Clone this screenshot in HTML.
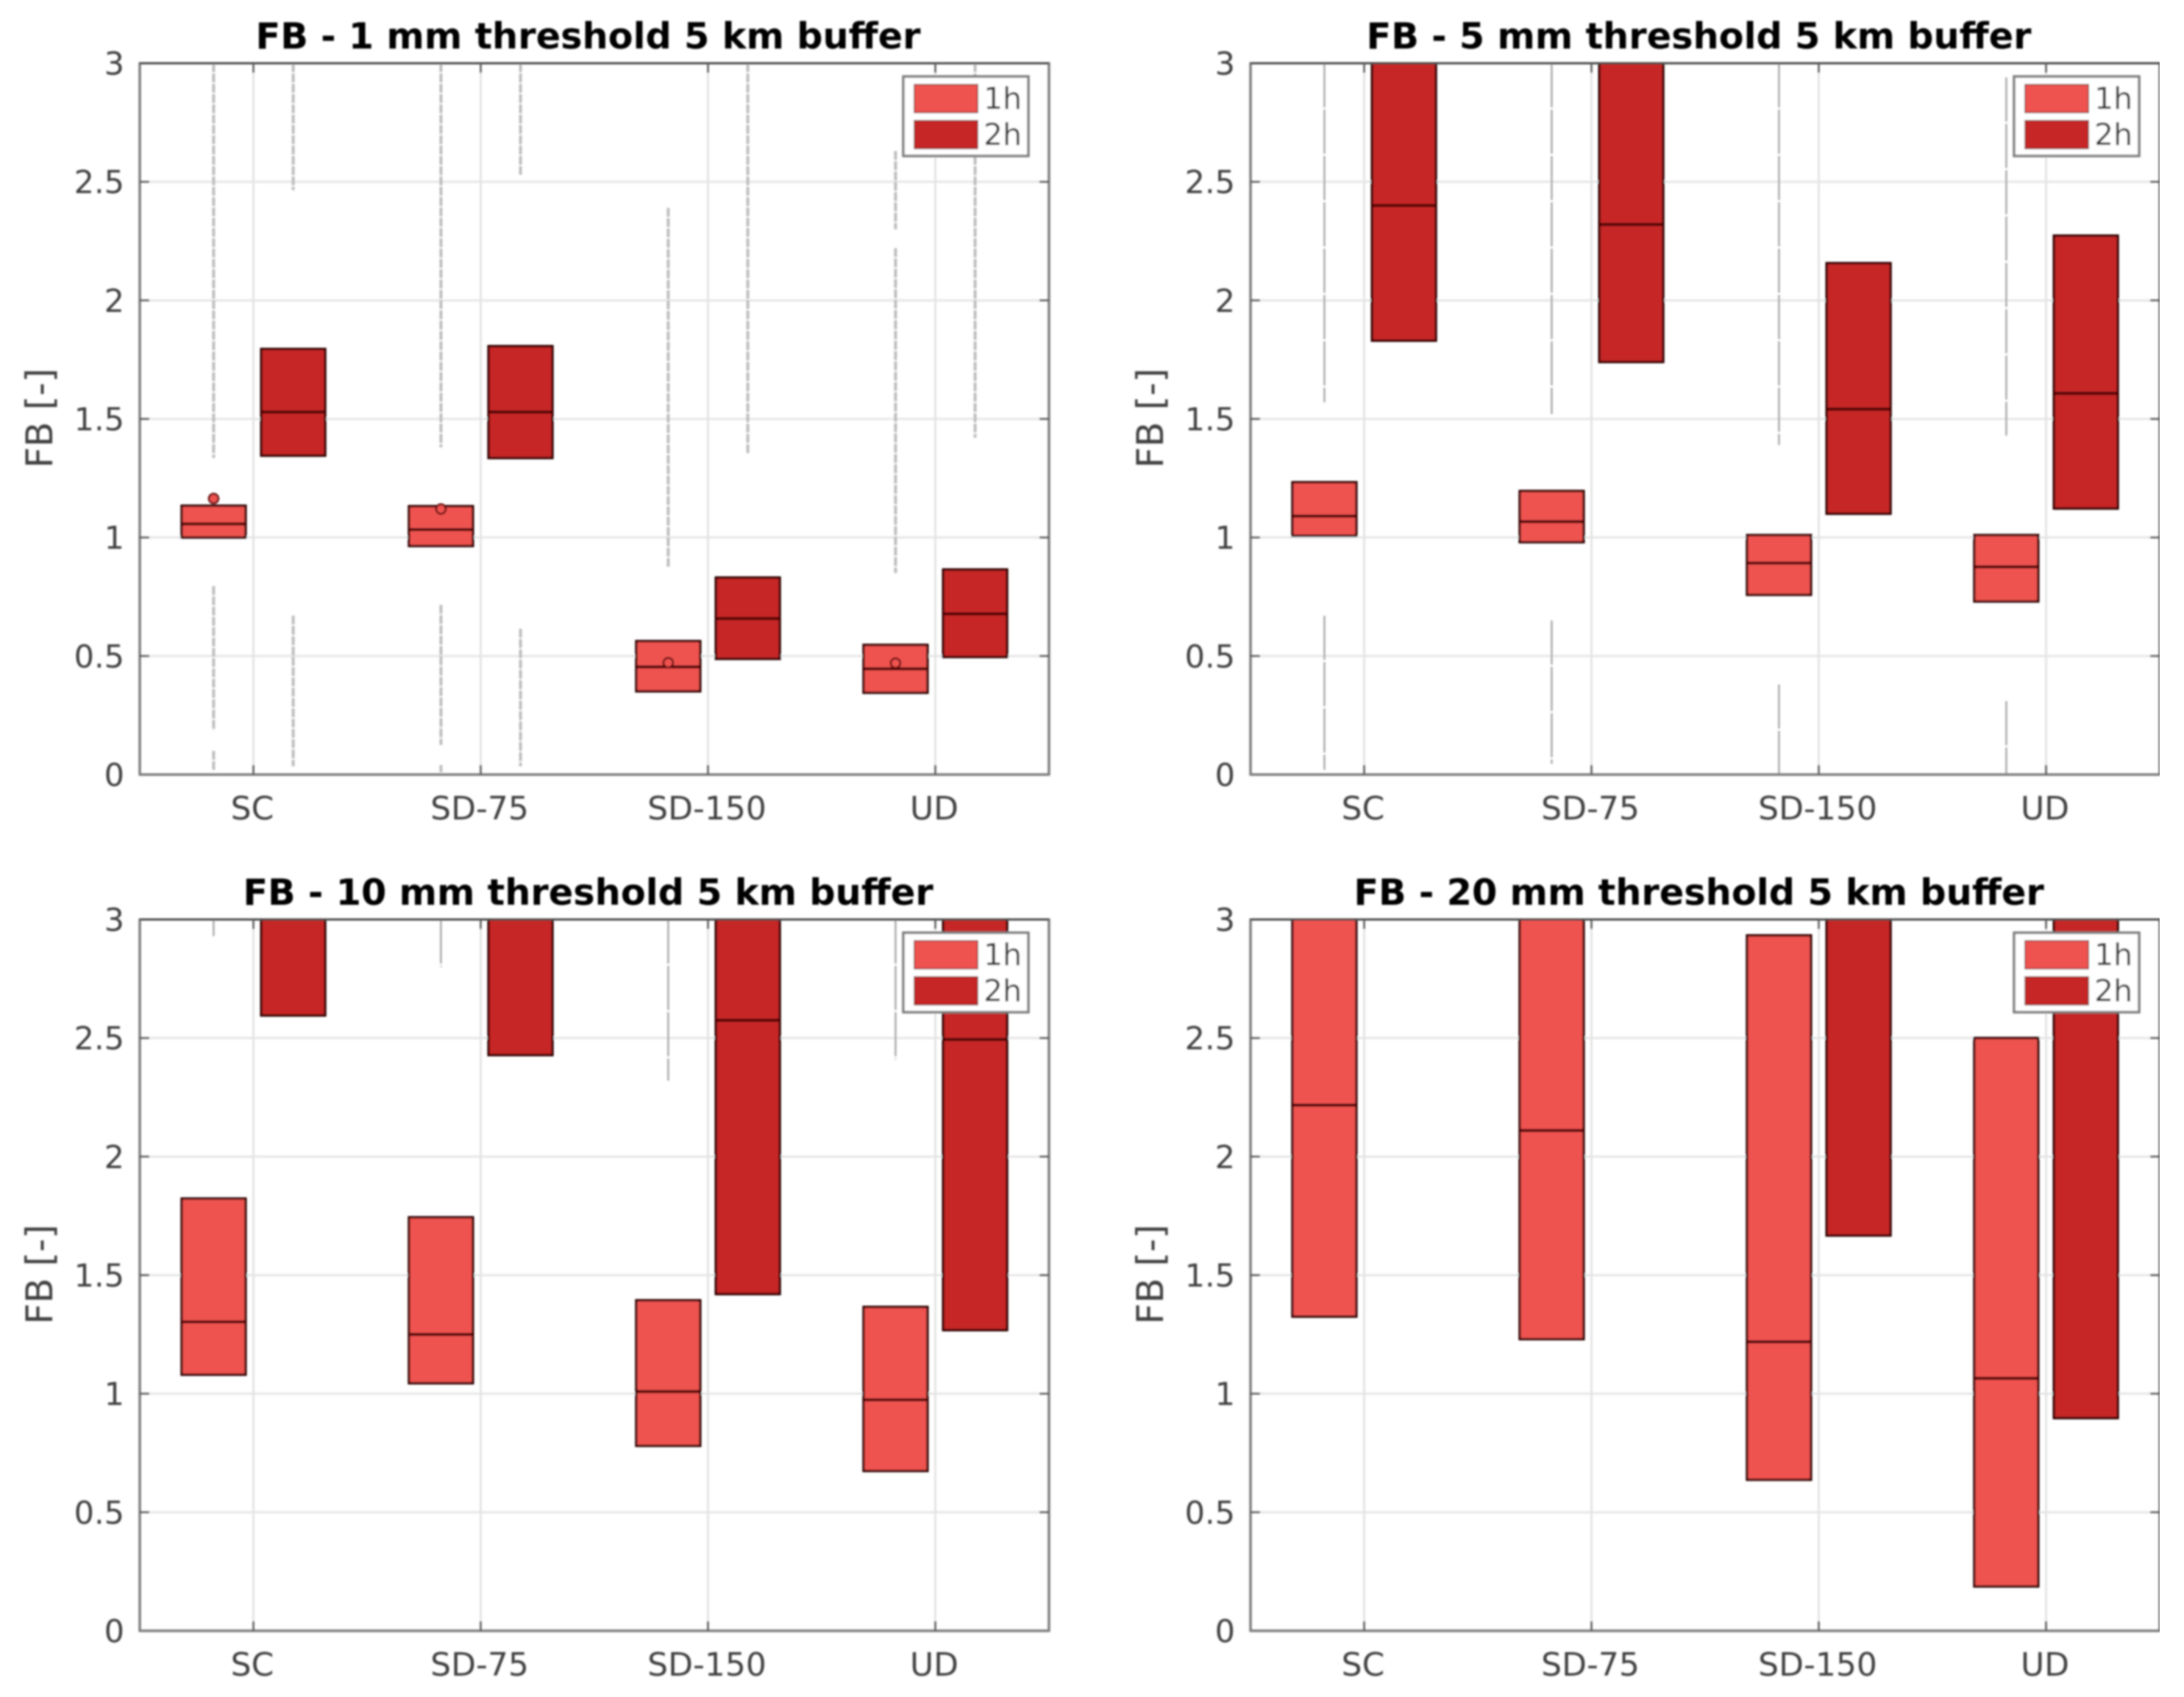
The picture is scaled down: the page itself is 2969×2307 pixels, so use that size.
<!DOCTYPE html>
<html lang="en">
<head>
<meta charset="utf-8">
<title>FB box plots by threshold</title>
<style>
  html, body { margin: 0; padding: 0; background: #ffffff; }
  body { width: 2969px; height: 2307px; overflow: hidden; }
  svg { display: block; }
  text { font-family: "DejaVu Sans", "Liberation Sans", sans-serif; }
</style>
</head>
<body>
<svg id="figure" xmlns="http://www.w3.org/2000/svg" width="2969" height="2307" viewBox="0 0 2969 2307">
  <defs>
    <filter id="soften" x="0" y="0" width="100%" height="100%" filterUnits="objectBoundingBox">
      <feGaussianBlur stdDeviation="1.2"></feGaussianBlur>
    </filter>
  </defs>
  <rect x="0" y="0" width="2969" height="2307" fill="#ffffff"></rect>
  <g id="root" filter="url(#soften)"></g>
</svg>
<script>
const categories = ['SC', 'SD-75', 'SD-150', 'UD'];
const seriesNames = ['1h', '2h'];
const yTicks = [0, 0.5, 1, 1.5, 2, 2.5, 3];
const yTickLabels = ['0', '0.5', '1', '1.5', '2', '2.5', '3'];
const yAxisLabel = 'FB [-]';
const panelTitles = [
  'FB - 1 mm threshold 5 km buffer',
  'FB - 5 mm threshold 5 km buffer',
  'FB - 10 mm threshold 5 km buffer',
  'FB - 20 mm threshold 5 km buffer'
];

// One row per panel, one value per category. Values above 3 are clipped by the axis.
const q1Values1h = [
  [1.00, 0.964, 0.351, 0.345],
  [1.007, 0.98, 0.758, 0.73],
  [1.08, 1.044, 0.78, 0.674],
  [1.325, 1.23, 0.637, 0.187]
];
const medianValues1h = [
  [1.057, 1.033, 0.454, 0.446],
  [1.09, 1.067, 0.892, 0.876],
  [1.303, 1.25, 1.009, 0.974],
  [2.217, 2.11, 1.219, 1.065]
];
const q3Values1h = [
  [1.134, 1.132, 0.563, 0.547],
  [1.233, 1.196, 1.01, 1.01],
  [1.823, 1.744, 1.394, 1.366],
  [3.6, 3.5, 2.933, 2.5]
];
const q1Values2h = [
  [1.345, 1.335, 0.488, 0.496],
  [1.83, 1.74, 1.10, 1.122],
  [2.595, 2.428, 1.42, 1.268],
  [3.3, 3.2, 1.667, 0.897]
];
const medianValues2h = [
  [1.529, 1.529, 0.658, 0.678],
  [2.40, 2.32, 1.541, 1.608],
  [3.2, 3.1, 2.575, 2.494],
  [4.2, 4.1, 3.1, 3.05]
];
const q3Values2h = [
  [1.795, 1.807, 0.831, 0.865],
  [3.4, 3.3, 2.157, 2.273],
  [4.0, 3.9, 3.8, 3.7],
  [5.0, 5.0, 4.5, 4.4]
];
const meanValues1h = [
  [1.164, 1.12, 0.472, 0.47],
  [null, null, null, null],
  [null, null, null, null],
  [null, null, null, null]
];
// Flier bands [low, high] per panel and category.
const flierBands1h = [
  [[[1.335, 3], [0.186, 0.795], [0.02, 0.10]], [[1.38, 3], [0.125, 0.716], [0.01, 0.04]], [[0.877, 2.39]], [[0.85, 2.22], [2.3, 2.63]]],
  [[[1.57, 3], [0.02, 0.67]], [[1.52, 3], [0.045, 0.65]], [[1.39, 3], [0, 0.38]], [[1.43, 2.94], [0, 0.31]]],
  [[[2.93, 3]], [[2.8, 3]], [[2.32, 3]], [[2.41, 3]]],
  [[], [], [], []]
];
const flierBands2h = [
  [[[2.465, 3], [0.035, 0.67]], [[2.53, 3], [0.035, 0.615]], [[1.35, 3]], [[1.42, 3]]],
  [[], [], [], []],
  [[], [], [], []],
  [[], [], [], []]
];

const svgNS = 'http://www.w3.org/2000/svg';
const root = document.getElementById('root');

function make(tag, parent, attrs) {
  const el = document.createElementNS(svgNS, tag);
  for (const k in attrs) el.setAttribute(k, attrs[k]);
  parent.appendChild(el);
  return el;
}

function drawBox(group, xS, yS, center, q1, med, q3, fill, seriesName, catName) {
  const halfWidth = 43.5;
  const top = yS(q3);
  const bottom = yS(q1);
  const box = make('rect', group, {
    x: xS(center) - halfWidth, y: top, width: halfWidth * 2, height: bottom - top,
    fill: fill, stroke: '#2e0404', 'stroke-width': 3.2
  });
  
  
  const medLine = make('line', group, {
    x1: xS(center) - halfWidth, x2: xS(center) + halfWidth, y1: yS(med), y2: yS(med),
    stroke: '#4e0303', 'stroke-width': 4
  });
  
  
}

function drawPanel(index, left, top) {
  const width = 1236;
  const height = 967;
  const right = left + width;
  const bottom = top + height;
  const xS = function (v) { return left + (v - 0.5) / 4 * width; };
  const yS = function (v) { return bottom - v / 3 * height; };

  const panel = make('g', root, {});
  
  

  const title = make('text', panel, {
    x: left + width / 2 - 8.5, y: top - 20, 'text-anchor': 'middle',
    'font-size': 49.4, 'font-weight': 'bold', fill: '#000000'
  });
  title.textContent = panelTitles[index];
  
  

  yTicks.forEach(function (t, i) {
    if (t > 0 && t < 3) {
      const gridY = make('line', panel, { x1: left, x2: right, y1: yS(t), y2: yS(t), stroke: '#e6e6e6', 'stroke-width': 3 });
      
      
    }
  });
  categories.forEach(function (c, i) {
    const gridX = make('line', panel, { x1: xS(i + 1), x2: xS(i + 1), y1: top, y2: bottom, stroke: '#e4e4e4', 'stroke-width': 3 });
    
    
  });

  const clipId = 'plot-clip-' + index;
  const defs = make('clipPath', panel, { id: clipId });
  make('rect', defs, { x: left, y: top, width: width, height: height });

  const plot = make('g', panel, { 'clip-path': 'url(#' + clipId + ')' });
  
  

  const flierColor = index === 0 ? '#bdbdbd' : '#a8a8a8';
  const flierWidth = index === 0 ? 4 : 2.5;
  const flierDash = index === 0 ? '12 2' : '60 3';
  const offset = 0.175;

  categories.forEach(function (c, i) {
    const c1 = i + 1 - offset;
    const c2 = i + 1 + offset;
    flierBands1h[index][i].forEach(function (band) {
      const f = make('line', plot, { x1: xS(c1), x2: xS(c1), y1: yS(band[1]), y2: yS(band[0]), stroke: flierColor, 'stroke-width': flierWidth, 'stroke-dasharray': flierDash });
      
      
    });
    flierBands2h[index][i].forEach(function (band) {
      const f = make('line', plot, { x1: xS(c2), x2: xS(c2), y1: yS(band[1]), y2: yS(band[0]), stroke: flierColor, 'stroke-width': flierWidth, 'stroke-dasharray': flierDash });
      
      
    });
    drawBox(plot, xS, yS, c1, q1Values1h[index][i], medianValues1h[index][i], q3Values1h[index][i], '#ef5350', '1h', c);
    drawBox(plot, xS, yS, c2, q1Values2h[index][i], medianValues2h[index][i], q3Values2h[index][i], '#c62828', '2h', c);
    const mean = meanValues1h[index][i];
    if (mean !== null) {
      const m = make('circle', plot, { cx: xS(c1), cy: yS(mean), r: 6.5, fill: '#ef5350', stroke: '#5e0505', 'stroke-width': 2.5 });
      
      
    }
  });

  // Axes frame
  const frameLeft = make('line', panel, { x1: left, x2: left, y1: top - 1.5, y2: bottom + 1.5, stroke: '#7d7d7d', 'stroke-width': 3.5 });
  
  
  const frameRight = make('line', panel, { x1: right, x2: right, y1: top - 1.5, y2: bottom + 1.5, stroke: '#7d7d7d', 'stroke-width': 3.5 });
  
  
  const frameBottom = make('line', panel, { x1: left, x2: right, y1: bottom, y2: bottom, stroke: '#7d7d7d', 'stroke-width': 3.5 });
  
  
  const frameTop = make('line', panel, { x1: left, x2: right, y1: top, y2: top, stroke: '#4a4a4a', 'stroke-width': 3 });
  
  

  yTicks.forEach(function (t, i) {
    const lab = make('text', panel, { x: left - 21, y: yS(t) + 15.5, 'text-anchor': 'end', 'font-size': 43, fill: '#404040' });
    lab.textContent = yTickLabels[i];
    
    
    if (t > 0 && t < 3) {
      const tl = make('line', panel, { x1: left, x2: left + 13, y1: yS(t), y2: yS(t), stroke: '#555555', 'stroke-width': 2.5 });
      
      
      const tr = make('line', panel, { x1: right - 13, x2: right, y1: yS(t), y2: yS(t), stroke: '#555555', 'stroke-width': 2.5 });
      
      
    }
  });
  categories.forEach(function (c, i) {
    const lab = make('text', panel, { x: xS(i + 1) - 1.5, y: bottom + 61, 'text-anchor': 'middle', 'font-size': 44, fill: '#404040' });
    lab.textContent = c;
    
    
    const tb = make('line', panel, { x1: xS(i + 1), x2: xS(i + 1), y1: bottom - 13, y2: bottom, stroke: '#555555', 'stroke-width': 2.5 });
    
    
    const tt = make('line', panel, { x1: xS(i + 1), x2: xS(i + 1), y1: top, y2: top + 13, stroke: '#555555', 'stroke-width': 2.5 });
    
    
  });

  const yLab = make('text', panel, {
    x: 0, y: 0, 'text-anchor': 'middle', 'font-size': 50, fill: '#404040',
    transform: 'translate(' + (left - 119) + ' ' + (top + height / 2 - 1) + ') rotate(-90)'
  });
  yLab.textContent = yAxisLabel;
  
  

  // Legend
  const legend = make('g', panel, {});
  
  
  const lgX = right - 198;
  const lgY = top + 18;
  const lgBox = make('rect', legend, { x: lgX, y: lgY, width: 170, height: 108, fill: '#ffffff', stroke: '#7d7d7d', 'stroke-width': 3.5 });
  
  
  const swatchFills = ['#ef5350', '#c62828'];
  const swatchTops = [11, 60];
  seriesNames.forEach(function (name, i) {
    const sw = make('rect', legend, { x: lgX + 15, y: lgY + swatchTops[i], width: 86, height: 38, fill: swatchFills[i], stroke: '#7a2020', 'stroke-width': 1.5 });
    
    
    const tx = make('text', legend, { x: lgX + 109, y: lgY + swatchTops[i] + 33, 'font-size': 41, fill: '#2e2e2e' });
    tx.textContent = name;
    
    
  });
}

drawPanel(0, 190, 86);
drawPanel(1, 1700, 86);
drawPanel(2, 190, 1250);
drawPanel(3, 1700, 1250);
</script>
</body>
</html>
